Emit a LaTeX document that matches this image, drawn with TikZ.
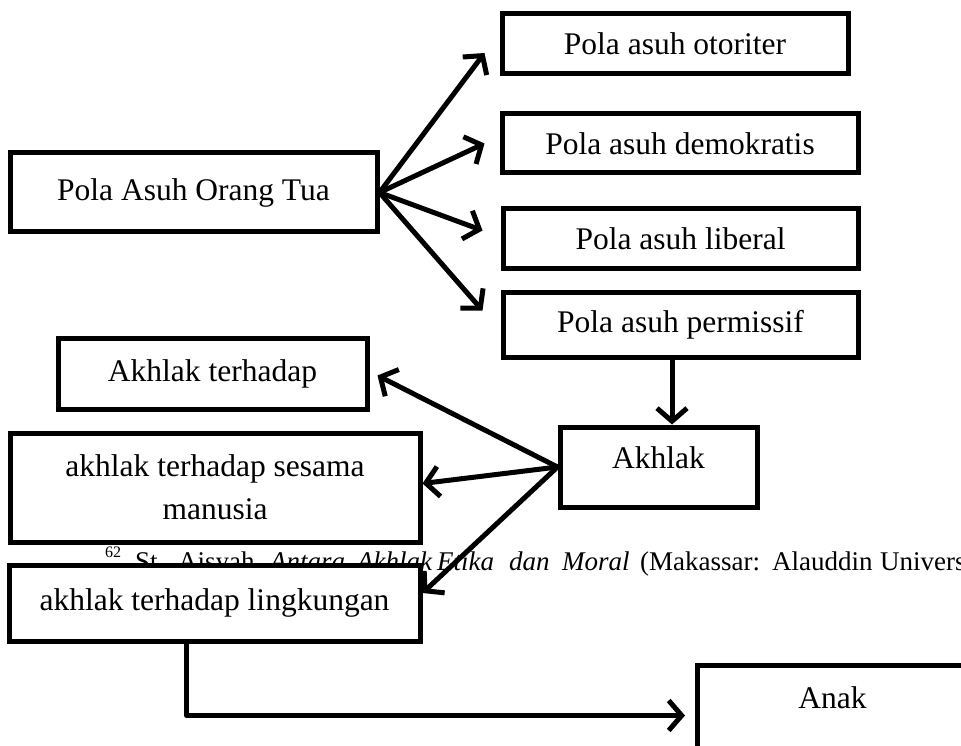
\documentclass[tikz,border=0pt]{standalone}
\usepackage{fontspec}
\setmainfont{Liberation Serif}
\usetikzlibrary{arrows.meta,calc}
\begin{document}
\begin{tikzpicture}[x=1pt,y=-1pt,
  box/.style={draw, line width=5pt, fill=white, inner sep=0pt, font=\fontsize{31.5}{43}\selectfont, align=center},
  arr/.style={line width=5pt, -{Straight Barb[length=13pt,width=30pt]}, line cap=round, line join=round},
  fn/.style={anchor=base west, inner sep=0pt, font=\fontsize{27}{32}\selectfont}]
\useasboundingbox (0,0) rectangle (961,746);
\clip (0,0) rectangle (961,746);
% footnote line (behind the boxes)
\node[fn, font=\fontsize{16}{19}\selectfont] (f0) at (105,557) {62};
\node[fn] (f1) at (135,570) {St.};
\node[fn] (f2) at (178,570) {Aisyah,};
\node[fn] (f3) at (270,570) {\itshape Antara};
\node[fn] (f4) at (357,570) {\itshape Akhlak};
\node[fn] (f5) at (437,570) {\itshape Etika};
\node[fn] (f6) at (509,570) {\itshape dan};
\node[fn] (f7) at (562,570) {\itshape Moral};
\node[fn] (f8) at (640,570) {(Makassar:};
\node[fn] (f9) at (772,570) {Alauddin};
\node[fn] (f10) at (880,570) {Univers};
% boxes
\node[box, minimum width=346, minimum height=60] (oto) at (675,44) {Pola asuh otoriter};
\node[box, minimum width=356, minimum height=59] (demo) at (680,143.5) {Pola asuh demokratis};
\node[box, minimum width=355, minimum height=59] (lib) at (680.5,238.5) {Pola asuh liberal};
\node[box, minimum width=355, minimum height=65] (perm) at (680.5,324.5) {Pola asuh permissif};
\node[box, minimum width=367, minimum height=79] (pot) at (193.5,192.5) {Pola Asuh Orang Tua};
\node[box, minimum width=309, minimum height=71] (ater) at (212.5,373.5) {Akhlak terhadap};
\node[box, minimum width=410, minimum height=109] (ses) at (215,487.5) {akhlak terhadap sesama\\manusia};
\node[box, minimum width=197, text height=41pt, text depth=39pt] (akh) at (658.5,467) {Akhlak};
\node[box, minimum width=411, minimum height=76] (ling) at (214.5,603) {akhlak terhadap lingkungan};
\node[box, anchor=north west, minimum width=270, text height=43pt, text depth=57pt] (anak) at (695,663) {Anak};
% connectors
\draw[arr] (pot.east) -- ($(oto.west)+(-15,9)$);
\draw[arr] (pot.east) -- ($(demo.west)+(-15,0)$);
\draw[arr] (pot.east) -- ($(lib.west)+(-18,-8)$);
\draw[arr] (pot.east) -- ($(perm.west)+(-18,-14)$);
\coordinate (pd) at ($(perm.south)+(-8.5,0)$);
\draw[arr] (pd) -- (pd |- akh.north);
\draw[arr] (akh.west) -- ($(ater.east)+(8,2)$);
\draw[arr] (akh.west) -- ($(ses.east)+(0,-4)$);
\draw[arr] (akh.west) -- ($(ling.east)+(0,-10)$);
\coordinate (lb) at ($(ling.south west)+(180,0)$);
\draw[arr, shorten >=10pt] (lb) |- (anak.west);
\end{tikzpicture}
\end{document}
